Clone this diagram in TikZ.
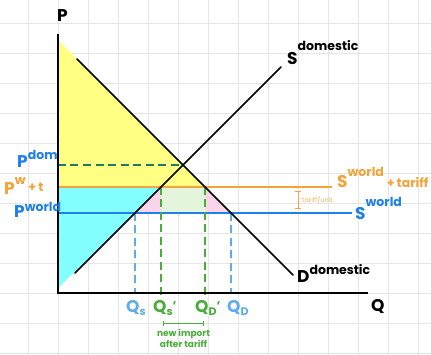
\documentclass[tikz,border=0pt]{standalone}
\usepackage{fontspec}
\setmainfont{Poppins}
\usetikzlibrary{arrows.meta,positioning}

\definecolor{csYellow}{HTML}{FFFF84}
\definecolor{psCyan}{HTML}{84FFFF}
\definecolor{dwlPink}{HTML}{F9D4EA}
\definecolor{revGreen}{HTML}{E3F6DC}
\definecolor{tariffOrange}{HTML}{F2A33A}
\definecolor{worldBlue}{HTML}{1F80EA}
\definecolor{qBlue}{HTML}{5EACF0}
\definecolor{importGreen}{HTML}{49AD3B}
\definecolor{domTeal}{HTML}{1B7A6A}

\newcommand{\supx}[2][8pt]{\raisebox{#1}{\fontsize{12.5}{12.5}\selectfont #2}}
\newcommand{\subx}[1]{\raisebox{-3pt}{\fontsize{11}{11}\selectfont #1}}

\begin{document}
\begin{tikzpicture}[x=1pt, y=1pt,
    gridline/.style={draw=black!10, line width=0.6pt},
    curve/.style={line width=1.6pt, line cap=round},
    axis/.style={line width=2.2pt},
    priceline/.style={line width=1.6pt},
    drop/.style={line width=1.9pt, dash pattern=on 8pt off 4.5pt},
    lbl/.style={inner sep=0pt, anchor=base west,
                font=\fontsize{17}{17}\selectfont\bfseries},
    note/.style={inner sep=0pt, text=importGreen, align=center,
                 font=\fontsize{9}{11.5}\selectfont\bfseries}
]
  \useasboundingbox (-58,-62) rectangle (373,293);
  \draw[gridline, step=30pt] (-58,-62) grid (373,293);

  % market points
  \coordinate (O) at (0,0);
  \coordinate (ptop) at (0,259);
  \coordinate (qend) at (310,0);
  \coordinate (dA) at (19,234);
  \coordinate (dB) at (235,18);
  \coordinate (sA) at (17,20);
  \coordinate (sB) at (223,226);
  \coordinate (E) at (125,128);
  \coordinate (dAxis) at (0,253);
  \coordinate (sAxis) at (0,5);
  \coordinate (pdom) at (0,128);
  \coordinate (pt) at (0,106);
  \coordinate (ptEnd) at (274,106);
  \coordinate (pw) at (0,80);
  \coordinate (pwEnd) at (294,80);
  \coordinate (qs) at (77,80);
  \coordinate (qs2) at (103,106);
  \coordinate (qd2) at (147,106);
  \coordinate (qd) at (173,80);

  % surplus areas
  \fill[csYellow] (dAxis) -- (qd2) -- (pt) -- cycle;
  \fill[psCyan] (pt) -- (qs2) -- (sAxis) -- cycle;
  \fill[dwlPink] (qs) -- (qs2) -- (qs2 |- pw) -- cycle;
  \fill[dwlPink] (qd2) -- (qd) -- (qd2 |- pw) -- cycle;
  \fill[revGreen] (qs2) rectangle (qd2 |- pw);

  \draw[priceline, tariffOrange] (pt) -- (ptEnd);
  \draw[priceline, worldBlue] (pw) -- (pwEnd);
  \draw[drop, domTeal] (pdom) -- (E);
  \draw[drop, qBlue] (qs) -- (qs |- O);
  \draw[drop, qBlue] (qd) -- (qd |- O);
  \draw[drop, importGreen] (qs2) -- (qs2 |- 0,-4);
  \draw[drop, importGreen] (qd2) -- (qd2 |- 0,-4);

  \draw[curve] (dA) -- (dB);
  \draw[curve] (sA) -- (sB);
  \draw[axis] (ptop) -- (O) -- (qend);

  % tariff per unit
  \coordinate (tarTop) at (240,102);
  \coordinate (tarBot) at (240,84);
  \draw[tariffOrange, line width=1pt, {Bar[width=6pt]}-{Bar[width=6pt]}] (tarTop) -- (tarBot);
  \node[inner sep=0pt, anchor=west, text=tariffOrange!85,
        font=\fontsize{6.5}{7}\selectfont] (tarLbl) at (244,93) {tariff/unit};

  % axis labels
  \node[lbl] (pLbl) at (-1,271) {P};
  \node[lbl] (qLbl) at (313,-19) {Q};

  \node[lbl, text=worldBlue] (pdomLbl) at (-41,125) {P\supx[8pt]{dom}};
  \node[lbl, text=tariffOrange] (ptLbl) at (-54,98) {P\supx[10pt]{w}\,\supx[3pt]{+\,t}};
  \node[lbl, text=worldBlue] (pwLbl) at (-44,75) {P\supx[6pt]{world}};

  \node[lbl] (sdomLbl) at (229,228) {S\supx[14pt]{domestic}};
  \node[lbl] (ddomLbl) at (239,10) {D\supx[8pt]{domestic}};
  \node[lbl, text=tariffOrange] (stLbl) at (279,105) {S\supx[11pt]{world}\,\supx[0pt]{+\,tariff}};
  \node[lbl, text=worldBlue] (swLbl) at (297,73) {S\supx[13pt]{world}};

  \node[lbl, text=qBlue] (qsLbl) at (68,-20) {Q\subx{s}};
  \node[lbl, text=importGreen] (qs2Lbl) at (95,-20) {Q\subx{s}\supx[2pt]{'}};
  \node[lbl, text=importGreen] (qd2Lbl) at (137,-20) {Q\subx{D}\supx[2pt]{'}};
  \node[lbl, text=qBlue] (qdLbl) at (169,-20) {Q\subx{D}};

  % new import after tariff
  \coordinate (impL) at (105,-31);
  \coordinate (impR) at (146,-31);
  \coordinate (impMid) at (125.5,-31);
  \draw[importGreen, line width=1pt, {Bar[width=5pt]}-{Bar[width=5pt]}] (impL) -- (impR);
  \node[note, below=5pt of impMid] (impLbl) {new import\\after tariff};
\end{tikzpicture}
\end{document}
